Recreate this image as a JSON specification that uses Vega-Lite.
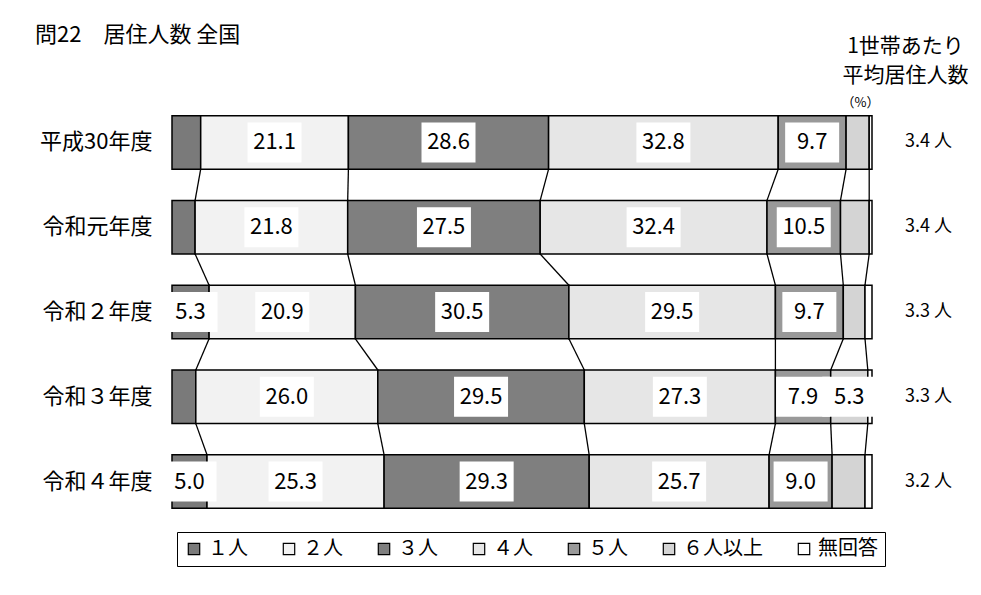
{
  "$schema": "https://vega.github.io/schema/vega-lite/v6.json",
  "width": 700,
  "height": 424,
  "autosize": {"type": "none"},
  "padding": {"left": 172, "top": 100, "right": 109, "bottom": 71},
  "background": "white",
  "config": {"font": "Noto Sans CJK JP", "view": {"stroke": null}},
  "title": {
    "text": "問22　居住人数 全国",
    "anchor": "start",
    "frame": "group",
    "dx": -137,
    "offset": -12,
    "fontSize": 22,
    "fontWeight": "normal",
    "color": "black"
  },
  "datasets": {
    "d": [
      {"year": "平成30年度", "fy": 2018, "k": 1, "cat": "１人", "v": 4.1},
      {"year": "平成30年度", "fy": 2018, "k": 2, "cat": "２人", "v": 21.1},
      {"year": "平成30年度", "fy": 2018, "k": 3, "cat": "３人", "v": 28.6},
      {"year": "平成30年度", "fy": 2018, "k": 4, "cat": "４人", "v": 32.8},
      {"year": "平成30年度", "fy": 2018, "k": 5, "cat": "５人", "v": 9.7},
      {"year": "平成30年度", "fy": 2018, "k": 6, "cat": "６人以上", "v": 3.3},
      {"year": "平成30年度", "fy": 2018, "k": 7, "cat": "無回答", "v": 0.4},
      {"year": "令和元年度", "fy": 2019, "k": 1, "cat": "１人", "v": 3.3},
      {"year": "令和元年度", "fy": 2019, "k": 2, "cat": "２人", "v": 21.8},
      {"year": "令和元年度", "fy": 2019, "k": 3, "cat": "３人", "v": 27.5},
      {"year": "令和元年度", "fy": 2019, "k": 4, "cat": "４人", "v": 32.4},
      {"year": "令和元年度", "fy": 2019, "k": 5, "cat": "５人", "v": 10.5},
      {"year": "令和元年度", "fy": 2019, "k": 6, "cat": "６人以上", "v": 4.1},
      {"year": "令和元年度", "fy": 2019, "k": 7, "cat": "無回答", "v": 0.4},
      {"year": "令和２年度", "fy": 2020, "k": 1, "cat": "１人", "v": 5.3},
      {"year": "令和２年度", "fy": 2020, "k": 2, "cat": "２人", "v": 20.9},
      {"year": "令和２年度", "fy": 2020, "k": 3, "cat": "３人", "v": 30.5},
      {"year": "令和２年度", "fy": 2020, "k": 4, "cat": "４人", "v": 29.5},
      {"year": "令和２年度", "fy": 2020, "k": 5, "cat": "５人", "v": 9.7},
      {"year": "令和２年度", "fy": 2020, "k": 6, "cat": "６人以上", "v": 3.1},
      {"year": "令和２年度", "fy": 2020, "k": 7, "cat": "無回答", "v": 1.0},
      {"year": "令和３年度", "fy": 2021, "k": 1, "cat": "１人", "v": 3.4},
      {"year": "令和３年度", "fy": 2021, "k": 2, "cat": "２人", "v": 26.0},
      {"year": "令和３年度", "fy": 2021, "k": 3, "cat": "３人", "v": 29.5},
      {"year": "令和３年度", "fy": 2021, "k": 4, "cat": "４人", "v": 27.3},
      {"year": "令和３年度", "fy": 2021, "k": 5, "cat": "５人", "v": 7.9},
      {"year": "令和３年度", "fy": 2021, "k": 6, "cat": "６人以上", "v": 5.3},
      {"year": "令和３年度", "fy": 2021, "k": 7, "cat": "無回答", "v": 0.6},
      {"year": "令和４年度", "fy": 2022, "k": 1, "cat": "１人", "v": 5.0},
      {"year": "令和４年度", "fy": 2022, "k": 2, "cat": "２人", "v": 25.3},
      {"year": "令和４年度", "fy": 2022, "k": 3, "cat": "３人", "v": 29.3},
      {"year": "令和４年度", "fy": 2022, "k": 4, "cat": "４人", "v": 25.7},
      {"year": "令和４年度", "fy": 2022, "k": 5, "cat": "５人", "v": 9.0},
      {"year": "令和４年度", "fy": 2022, "k": 6, "cat": "６人以上", "v": 4.7},
      {"year": "令和４年度", "fy": 2022, "k": 7, "cat": "無回答", "v": 1.0}
    ],
    "avg": [
      {"year": "平成30年度", "fy": 2018, "avg": 3.4},
      {"year": "令和元年度", "fy": 2019, "avg": 3.4},
      {"year": "令和２年度", "fy": 2020, "avg": 3.3},
      {"year": "令和３年度", "fy": 2021, "avg": 3.3},
      {"year": "令和４年度", "fy": 2022, "avg": 3.2}
    ]
  },
  "data": {"name": "d"},
  "encoding": {
    "y": {
      "field": "year",
      "type": "nominal",
      "sort": ["平成30年度", "令和元年度", "令和２年度", "令和３年度", "令和４年度"],
      "scale": {"paddingInner": 0.369, "paddingOuter": 0.1845},
      "axis": {
        "title": "（%）",
        "titleAngle": 0,
        "titleX": 688,
        "titleY": 2,
        "titleAlign": "center",
        "titleBaseline": "middle",
        "titleFontSize": 13,
        "titleFontWeight": "normal",
        "titleColor": "black",
        "labelFontSize": 22,
        "labelColor": "black",
        "labelPadding": 20,
        "domain": false,
        "ticks": false,
        "grid": false
      }
    }
  },
  "layer": [
    {
      "transform": [
        {"stack": "v", "groupby": ["year"], "sort": [{"field": "k"}], "as": ["x0", "x1"]}
      ],
      "mark": {"type": "bar", "stroke": "black", "strokeWidth": 1.5},
      "encoding": {
        "x": {
          "field": "x0",
          "type": "quantitative",
          "scale": {"domain": [0, 100], "nice": false},
          "axis": {
            "orient": "top",
            "title": ["1世帯あたり", "平均居住人数"],
            "labels": false,
            "ticks": false,
            "domain": false,
            "grid": false,
            "titleX": 733,
            "titleY": -54,
            "titleAlign": "center",
            "titleBaseline": "middle",
            "titleFontSize": 21,
            "titleFontWeight": "normal",
            "titleColor": "black",
            "titleLineHeight": 29
          }
        },
        "x2": {"field": "x1"},
        "color": {
          "field": "cat",
          "type": "nominal",
          "scale": {
            "domain": ["１人", "２人", "３人", "４人", "５人", "６人以上", "無回答"],
            "range": ["#7a7a7a", "#f2f2f2", "#7f7f7f", "#e6e6e6", "#999999", "#d4d4d4", "#ffffff"]
          },
          "legend": {
            "orient": "none",
            "direction": "horizontal",
            "columns": 7,
            "legendX": 5,
            "legendY": 432,
            "title": null,
            "symbolType": "square",
            "symbolSize": 130,
            "symbolStrokeColor": "black",
            "symbolStrokeWidth": 1.2,
            "symbolOpacity": 1,
            "labelFontSize": 20,
            "labelColor": "black",
            "labelOffset": 4,
            "columnPadding": 31,
            "padding": 7,
            "strokeColor": "black"
          }
        }
      }
    },
    {
      "transform": [
        {"stack": "v", "groupby": ["year"], "sort": [{"field": "k"}], "as": ["x0", "x1"]},
        {"window": [{"op": "lead", "field": "x1", "as": "nx"}, {"op": "lead", "field": "year", "as": "ny"}], "groupby": ["k"], "sort": [{"field": "fy"}]},
        {"filter": "datum.ny != null && datum.k < 7"}
      ],
      "mark": {"type": "rule", "stroke": "black", "strokeWidth": 1.3, "yOffset": 26.8, "y2Offset": -26.8},
      "encoding": {
        "x": {"field": "x1", "type": "quantitative"},
        "x2": {"field": "nx"},
        "y2": {"field": "ny"}
      }
    },
    {
      "transform": [
        {"stack": "v", "groupby": ["year"], "sort": [{"field": "k"}], "as": ["x0", "x1"]},
        {"calculate": "(datum.x0 + datum.x1) / 2", "as": "mid"},
        {"filter": "datum.v >= 5"}
      ],
      "mark": {"type": "point", "shape": "M-1.35,-1H1.35V1H-1.35Z", "size": 1600, "filled": true, "fill": "white", "opacity": 1, "strokeWidth": 0},
      "encoding": {
        "x": {"field": "mid", "type": "quantitative"}
      }
    },
    {
      "transform": [
        {"stack": "v", "groupby": ["year"], "sort": [{"field": "k"}], "as": ["x0", "x1"]},
        {"calculate": "(datum.x0 + datum.x1) / 2", "as": "mid"},
        {"filter": "datum.v >= 5"}
      ],
      "mark": {"type": "text", "fontSize": 22, "color": "black", "baseline": "middle", "align": "center"},
      "encoding": {
        "x": {"field": "mid", "type": "quantitative"},
        "text": {"field": "v", "type": "quantitative", "format": ".1f"}
      }
    },
    {
      "data": {"name": "avg"},
      "transform": [
        {"calculate": "format(datum.avg, '.1f') + ' 人'", "as": "lab"}
      ],
      "mark": {"type": "text", "fontSize": 18, "color": "black", "align": "left", "baseline": "middle", "dx": 33},
      "encoding": {
        "x": {"datum": 100, "type": "quantitative"},
        "text": {"field": "lab", "type": "nominal"}
      }
    }
  ]
}
